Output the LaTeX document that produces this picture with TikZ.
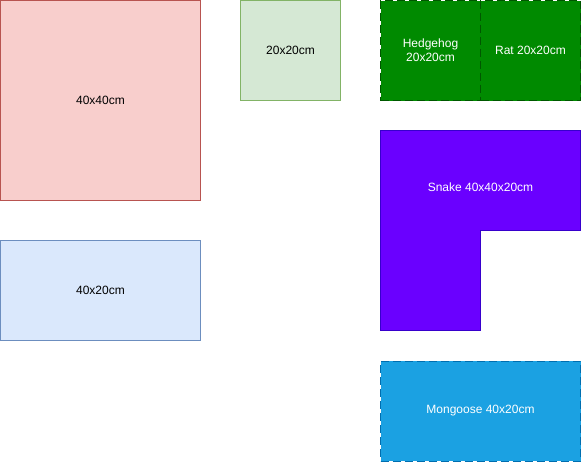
\documentclass[tikz,border=0pt]{standalone}
\usepackage{fontspec}
\setmainfont{Liberation Sans}
\definecolor{redfill}{HTML}{F8CECC}
\definecolor{redline}{HTML}{B85450}
\definecolor{greenfill}{HTML}{D5E8D4}
\definecolor{greenline}{HTML}{82B366}
\definecolor{bluefill}{HTML}{DAE8FC}
\definecolor{blueline}{HTML}{6C8EBF}
\definecolor{dgfill}{HTML}{008A00}
\definecolor{dgline}{HTML}{005700}
\definecolor{snakefill}{HTML}{6A00FF}
\definecolor{snakeline}{HTML}{3700CC}
\definecolor{mgfill}{HTML}{1BA1E2}
\definecolor{mgline}{HTML}{006EAF}
\tikzset{
  box/.style={draw, line width=1pt, inner sep=0pt, font=\fontsize{12}{14}\selectfont, align=center},
  dashbox/.style={box, dash pattern=on 8pt off 4pt, text=white},
}
\begin{document}
\begin{tikzpicture}[x=1pt,y=-1pt]
\useasboundingbox (0,0) rectangle (581,461);
\node[box, fill=redfill, draw=redline, minimum width=200pt, minimum height=200pt] (red) at (100.5,100.5) {40x40cm};
\node[box, fill=greenfill, draw=greenline, minimum width=100pt, minimum height=100pt] (green) at (290.5,50.5) {20x20cm};
\node[box, fill=bluefill, draw=blueline, minimum width=200pt, minimum height=100pt] (blue) at (100.5,290.5) {40x20cm};
\node[dashbox, fill=dgfill, draw=dgline, minimum width=100pt, minimum height=100pt] (hedgehog) at (430.5,50.5) {Hedgehog\\20x20cm};
\node[dashbox, fill=dgfill, draw=dgline, minimum width=100pt, minimum height=100pt] (rat) at (530.5,50.5) {Rat 20x20cm};
\draw[line width=1pt, fill=snakefill, draw=snakeline] (380.5,130.5) -- (580.5,130.5) -- (580.5,230.5) -- (480.5,230.5) -- (480.5,330.5) -- (380.5,330.5) -- cycle;
\node[font=\fontsize{12}{14}\selectfont, text=white] (snake) at (480.5,187) {Snake 40x40x20cm};
\node[dashbox, fill=mgfill, draw=mgline, minimum width=200pt, minimum height=100pt] (mongoose) at (480.5,411) {Mongoose 40x20cm};
\end{tikzpicture}
\end{document}
